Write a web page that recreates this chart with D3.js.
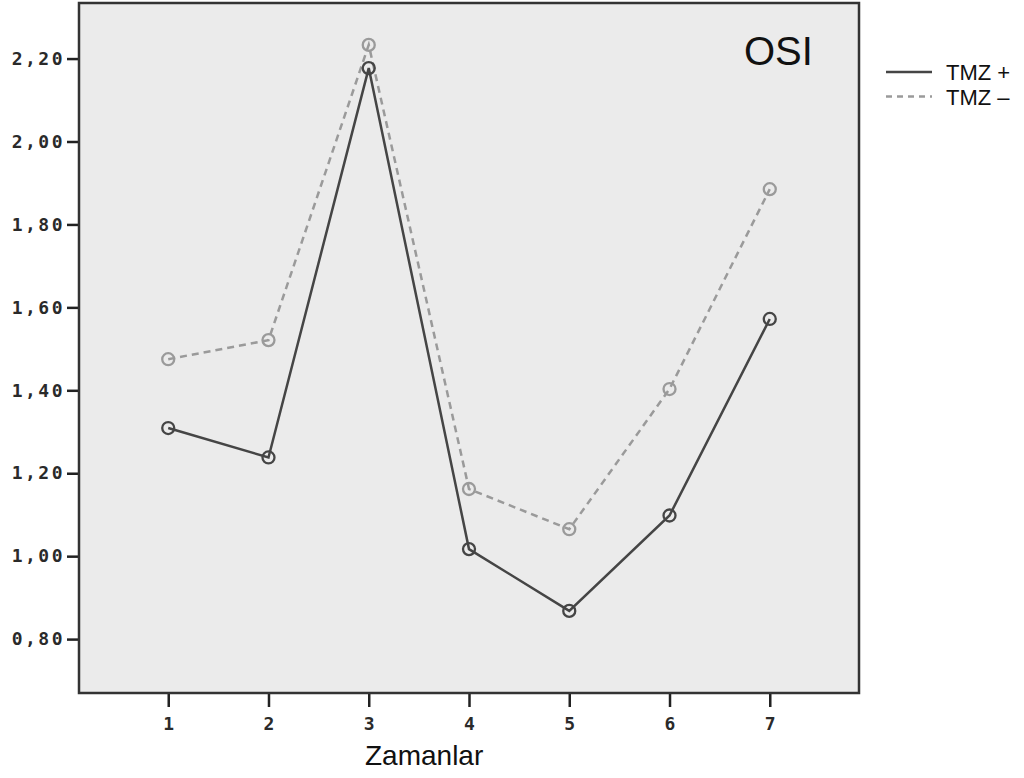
<!DOCTYPE html>
<html>
<head>
<meta charset="utf-8">
<script src="https://cdn.jsdelivr.net/npm/d3@7"></script>
<style>
  body { margin: 0; background: #fff; }
  .axis text { font-family: "DejaVu Sans Mono", monospace; font-weight: bold; font-size: 18px; fill: #2a2a2a; }
  .y.axis text { letter-spacing: 2.5px; }
  .axis line { stroke: #222; stroke-width: 2.5; }
  .axis path { display: none; }
</style>
</head>
<body>
<div class="graph"><svg></svg></div>
<script>
// data
const times = [1, 2, 3, 4, 5, 6, 7]
const tmzPlus = [1.309, 1.238, 2.177, 1.017, 0.868, 1.098, 1.572]
const tmzMinus = [1.475, 1.521, 2.233, 1.162, 1.065, 1.403, 1.885]
const yTicks = [0.8, 1.0, 1.2, 1.4, 1.6, 1.8, 2.0, 2.2]
const seriesNames = ['TMZ +', 'TMZ \u2013']

const width = 1024
const height = 778
const plot = { left: 79, right: 859, top: 3, bottom: 693 }

const svg = d3.select('.graph').select('svg')
  .attr('width', width)
  .attr('height', height)

const x = d3.scaleLinear().domain([0.11, 7.89]).range([plot.left, plot.right])
const y = d3.scaleLinear().domain([0.670, 2.334]).range([plot.bottom, plot.top])

// panel background
svg.append('rect')
  .attr('x', plot.left)
  .attr('y', plot.top)
  .attr('width', plot.right - plot.left)
  .attr('height', plot.bottom - plot.top)
  .attr('fill', '#ebebeb')

const comma = d3.formatLocale({ decimal: ',', thousands: '.', grouping: [3], currency: ['', ''] })

svg.append('g')
  .attr('class', 'y axis')
  .attr('transform', 'translate(' + plot.left + ',0)')
  .call(d3.axisLeft(y).tickValues(yTicks).tickSize(12).tickPadding(2)
    .tickFormat(comma.format('.2f')))

svg.append('g')
  .attr('class', 'x axis')
  .attr('transform', 'translate(0,' + plot.bottom + ')')
  .call(d3.axisBottom(x).tickValues(times).tickSize(14).tickPadding(10)
    .tickFormat(d3.format('d')))

const series = [
  { name: seriesNames[0], values: tmzPlus, color: '#454545', dash: null },
  { name: seriesNames[1], values: tmzMinus, color: '#9a9a9a', dash: '7,5' }
]

const line = d3.line()
  .x((d, i) => x(times[i]))
  .y(d => y(d))

// draw the dashed series first so the solid one sits on top
series.slice().reverse().forEach(s => {
  svg.append('path')
    .datum(s.values)
    .attr('d', line)
    .attr('fill', 'none')
    .attr('stroke', s.color)
    .attr('stroke-width', 2.5)
    .attr('stroke-dasharray', s.dash)

  svg.selectAll(null)
    .data(s.values)
    .enter()
    .append('circle')
    .attr('cx', (d, i) => x(times[i]))
    .attr('cy', d => y(d))
    .attr('r', 6)
    .attr('fill', 'none')
    .attr('stroke', s.color)
    .attr('stroke-width', 2.3)
})

// frame
svg.append('rect')
  .attr('x', plot.left)
  .attr('y', plot.top)
  .attr('width', plot.right - plot.left)
  .attr('height', plot.bottom - plot.top)
  .attr('fill', 'none')
  .attr('stroke', '#333')
  .attr('stroke-width', 2.5)

svg.append('text')
  .text('OSI')
  .attr('x', 744)
  .attr('y', 65)
  .attr('font-family', 'Liberation Sans, Arial, sans-serif')
  .attr('font-size', 40)
  .attr('fill', '#111')

svg.append('text')
  .text('Zamanlar')
  .attr('x', 365)
  .attr('y', 765)
  .attr('font-family', 'Liberation Sans, Arial, sans-serif')
  .attr('font-size', 28)
  .attr('fill', '#111')

// legend
const legend = svg.append('g').attr('transform', 'translate(886,72)')
series.forEach((s, i) => {
  const row = legend.append('g').attr('transform', 'translate(0,' + (i * 24.5) + ')')
  row.append('line')
    .attr('x1', 0)
    .attr('x2', 46)
    .attr('stroke', s.color)
    .attr('stroke-width', 2.3)
    .attr('stroke-dasharray', s.dash ? '6,5' : null)
  row.append('text')
    .text(s.name)
    .attr('x', 60)
    .attr('y', 8)
    .attr('font-family', 'Liberation Sans, Arial, sans-serif')
    .attr('font-size', 22)
    .attr('fill', '#111')
})
</script>
</body>
</html>
